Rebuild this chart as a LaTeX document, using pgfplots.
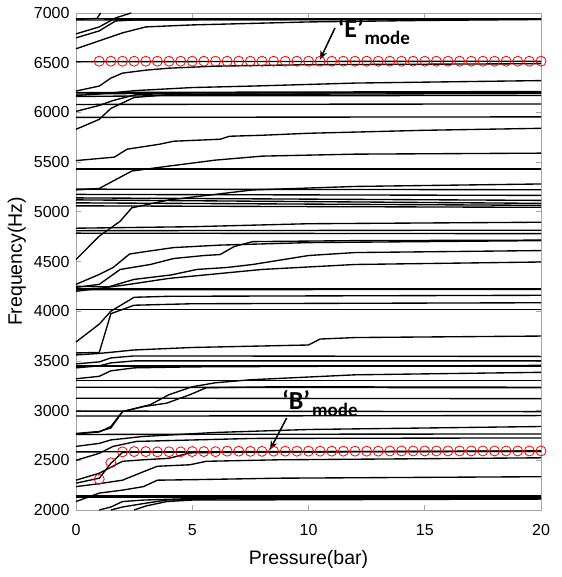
\documentclass[border=0pt]{standalone}
\usepackage{fontspec}
\setmainfont{Liberation Sans}
\newfontfamily\calib{Carlito}
\usepackage{pgfplots}
\pgfplotsset{compat=1.18}
\usetikzlibrary{calc,arrows.meta}

\begin{document}
\begin{tikzpicture}
\begin{axis}[
  scale only axis,
  width=465pt, height=497pt,
  xmin=0, xmax=20, ymin=2000, ymax=7000,
  xtick={0,5,10,15,20},
  ytick={2000,2500,3000,3500,4000,4500,5000,5500,6000,6500,7000},
  tick align=inside,
  major tick length=5pt,
  axis line style={gray!70, line width=0.7pt},
  tick style={gray!70, line width=0.7pt},
  /pgf/number format/assume math mode=true,
  /pgf/number format/1000 sep={},
  ticklabel style={font=\fontsize{16}{16}\selectfont},
  yticklabel style={xshift=-3pt},
  xticklabel style={yshift=-11pt},
  xlabel={Pressure(bar)},
  ylabel={Frequency(Hz)},
  label style={font=\fontsize{19.5}{20}\selectfont},
  xlabel style={at={(axis description cs:0.5,-0.099)}, anchor=center},
  ylabel style={at={(axis description cs:-0.127,0.5)}, anchor=center, rotate=0},
  clip=false,
  ml/.style={black, line width=1.35pt},
]
% ---- upper block (6500-7000)
\addplot[ml] coordinates {(0,6935)(0.9,6945)(1.06,7000)};
\addplot[ml] coordinates {(0,6930)(20,6935)};
\addplot[ml] coordinates {(0,6945)(20,6945)};
\addplot[ml] coordinates {(0,6790)(1,6860)(1.7,6950)(2.37,7000)};
\addplot[ml] coordinates {(0,6750)(1,6820)(1.7,6920)(2.5,6930)(20,6940)};
\addplot[ml] coordinates {(0,6640)(1,6720)(2,6800)(3,6860)(5,6880)(10,6910)(15,6925)(20,6935)};
\addplot[ml] coordinates {(0,6510)(20,6515)};
% ---- 5800-6500
\addplot[ml] coordinates {(0,6215)(1,6265)(1.5,6345)(2,6395)(3,6425)(4,6445)(6,6465)(10,6480)(20,6490)};
\addplot[ml] coordinates {(0,6170)(1,6185)(2.6,6220)(5,6250)(7.6,6265)(12,6295)(20,6320)};
\addplot[ml] coordinates {(0,6200)(20,6210)};
\addplot[ml] coordinates {(0,6185)(5,6195)(20,6200)};
\addplot[ml] coordinates {(0,6160)(4,6168)(20,6170)};
\addplot[ml] coordinates {(0,6010)(1,6070)(1.6,6120)(2.6,6180)(5,6195)(20,6205)};
\addplot[ml] coordinates {(0,5830)(1,5930)(1.5,6040)(2.5,6150)(4,6180)(20,6190)};
\addplot[ml] coordinates {(0,6080)(20,6085)};
\addplot[ml] coordinates {(0,5950)(20,5955)};
% ---- 5000-5800
\addplot[ml] coordinates {(0,5515)(1.65,5550)(2.2,5630)(3.6,5680)(4.2,5710)(6.2,5730)(6.6,5760)(8,5770)(10,5790)(15,5820)(20,5840)};
\addplot[ml] coordinates {(0,5220)(1,5235)(2.4,5410)(4,5460)(6,5520)(8,5560)(12,5580)(20,5590)};
\addplot[ml] coordinates {(0,5430)(20,5430)};
\addplot[ml] coordinates {(0,4520)(1,4755)(1.9,4905)(2.4,5040)(4,5120)(7.6,5220)(12,5255)(20,5280)};
\addplot[ml] coordinates {(0,5228)(20,5222)};
\addplot[ml] coordinates {(0,5175)(20,5165)};
\addplot[ml] coordinates {(0,5140)(20,5115)};
\addplot[ml] coordinates {(0,5120)(20,5085)};
\addplot[ml] coordinates {(0,5090)(20,5065)};
\addplot[ml] coordinates {(0,5060)(20,5045)};
% ---- 4000-5000
\addplot[ml] coordinates {(0,4835)(5,4850)(10,4880)(20,4895)};
\addplot[ml] coordinates {(0,4810)(20,4815)};
\addplot[ml] coordinates {(0,4785)(20,4780)};
\addplot[ml] coordinates {(0,4270)(1,4370)(1.6,4440)(2.3,4575)(3,4600)(4.2,4640)(6.2,4665)(10,4690)(20,4710)};
\addplot[ml] coordinates {(0,4240)(1,4270)(1.9,4420)(3.2,4470)(4.2,4530)(5.5,4560)(6.2,4570)(6.8,4650)(7.6,4700)(12,4710)(20,4715)};
\addplot[ml] coordinates {(0,4250)(1.4,4245)(2.5,4320)(4.1,4365)(5.2,4420)(6.5,4440)(7.6,4470)(10,4560)(12,4590)(20,4610)};
\addplot[ml] coordinates {(0,4200)(2,4260)(4,4330)(8,4420)(12,4470)(20,4495)};
\addplot[ml] coordinates {(0,4225)(20,4225)};
\addplot[ml] coordinates {(0,4215)(20,4220)};
\addplot[ml] coordinates {(0,3690)(1,3870)(1.5,4000)(2.5,4140)(4,4150)(20,4160)};
\addplot[ml] coordinates {(0,3580)(1,3585)(1.5,3975)(2.5,4060)(5,4075)(20,4085)};
\addplot[ml] coordinates {(0,4020)(20,4020)};
% ---- 3000-4000
\addplot[ml] coordinates {(0,3560)(1,3575)(2.5,3610)(5,3635)(10,3660)(10.5,3720)(12,3735)(20,3750)};
\addplot[ml] coordinates {(0,3470)(1,3490)(1.5,3530)(2.5,3550)(20,3545)};
\addplot[ml] coordinates {(0,3430)(1,3450)(1.5,3480)(2.5,3500)(20,3500)};
\addplot[ml] coordinates {(0,3450)(20,3450)};
\addplot[ml] coordinates {(0,3320)(1,3345)(1.5,3400)(2.5,3430)(5,3440)(20,3455)};
\addplot[ml] coordinates {(0,3300)(20,3300)};
\addplot[ml] coordinates {(0,3235)(20,3230)};
\addplot[ml] coordinates {(0,3125)(20,3120)};
\addplot[ml] coordinates {(0,2770)(1,2790)(1.5,2825)(2,2990)(3.2,3060)(4,3160)(5,3240)(6,3280)(7.5,3310)(12,3360)(20,3385)};
\addplot[ml] coordinates {(0,2765)(1,2785)(1.5,2840)(2,2990)(2.9,3040)(3.9,3075)(4.9,3160)(5.6,3230)(8.7,3240)(20,3235)};
\addplot[ml] coordinates {(0,2995)(20,2990)};
\addplot[ml] coordinates {(0,2945)(20,2950)};
% ---- 2000-3000
\addplot[ml] coordinates {(0,2640)(1,2670)(1.5,2705)(2.9,2740)(6,2780)(10,2810)(20,2840)};
\addplot[ml] coordinates {(0,2760)(20,2765)};
\addplot[ml] coordinates {(0,2500)(1,2570)(1.6,2640)(2.6,2690)(7.6,2720)(20,2725)};
\addplot[ml] coordinates {(0,2585)(20,2590)};
\addplot[ml] coordinates {(0,2270)(1,2320)(1.5,2470)(2,2580)(20,2590)};
\addplot[ml] coordinates {(0,2300)(1,2370)(2,2490)(2.9,2505)(4,2520)(4.9,2575)(8.7,2585)(20,2595)};
\addplot[ml] coordinates {(0,2235)(1,2265)(2,2300)(2.9,2385)(3.5,2440)(4.9,2455)(5.6,2490)(8.7,2505)(20,2525)};
\addplot[ml] coordinates {(0,2085)(1,2170)(2,2200)(2.9,2235)(3.5,2300)(5,2305)(8.7,2320)(20,2335)};
\addplot[ml] coordinates {(0,2125)(20,2125)};
\addplot[ml] coordinates {(0,2140)(20,2140)};
\addplot[ml] coordinates {(1,2000)(1.5,2030)(2,2085)(2.9,2100)(5,2115)(20,2120)};
\addplot[ml] coordinates {(1.5,2000)(2,2030)(2.9,2065)(3.9,2100)(6,2110)(20,2115)};
\addplot[ml] coordinates {(2.5,2000)(3,2040)(3.9,2085)(5,2100)(20,2110)};
% ---- tracked modes (red circles)
\addplot[red, only marks, mark=o, mark size=5pt, mark options={line width=0.8pt}] coordinates {
(1,6515)(1.5,6515)(2,6515)(2.5,6515)(3,6515)(3.5,6515)(4,6515)(4.5,6515)(5,6515)(5.5,6515)
(6,6515)(6.5,6515)(7,6515)(7.5,6515)(8,6515)(8.5,6515)(9,6515)(9.5,6515)(10,6515)(10.5,6515)
(11,6515)(11.5,6515)(12,6515)(12.5,6515)(13,6515)(13.5,6515)(14,6515)(14.5,6515)(15,6515)(15.5,6515)
(16,6515)(16.5,6515)(17,6515)(17.5,6515)(18,6515)(18.5,6515)(19,6515)(19.5,6515)(20,6515)};
\addplot[red, only marks, mark=o, mark size=5pt, mark options={line width=0.8pt}] coordinates {
(1,2310)(1.5,2475)(2,2585)(2.5,2588)(3,2588)(3.5,2585)(4,2586)(4.5,2585)(5,2588)(5.5,2588)
(6,2587)(6.5,2592)(7,2592)(7.5,2590)(8,2590)(8.5,2592)(9,2592)(9.5,2592)(10,2592)(10.5,2592)
(11,2592)(11.5,2592)(12,2592)(12.5,2592)(13,2592)(13.5,2594)(14,2594)(14.5,2594)(15,2594)(15.5,2594)
(16,2594)(16.5,2594)(17,2594)(17.5,2594)(18,2594)(18.5,2594)(19,2594)(19.5,2594)(20,2594)};
% ---- annotations
\node[anchor=base west, inner sep=0pt] at (axis cs:11.25,6755) {\calib\bfseries\fontsize{26}{26}\selectfont ‘E’};
\node[anchor=base west, inner sep=0pt] at (axis cs:12.4,6680) {\calib\bfseries\fontsize{19}{19}\selectfont mode};
\draw[-{Stealth[length=9pt,width=7pt]}, line width=1.5pt] (axis cs:11.14,6850) -- (axis cs:10.49,6530);
\node[anchor=base west, inner sep=0pt] at (axis cs:8.86,3007) {\calib\bfseries\fontsize{26}{26}\selectfont ‘B’};
\node[anchor=base west, inner sep=0pt] at (axis cs:10.15,2940) {\calib\bfseries\fontsize{19}{19}\selectfont mode};
\draw[-{Stealth[length=9pt,width=7pt]}, line width=1.5pt] (axis cs:9.06,2925) -- (axis cs:8.34,2605);
\end{axis}
\path ($(current axis.south west)+(-76pt,-67pt)$) rectangle ($(current axis.north east)+(20pt,13pt)$);
\end{tikzpicture}
\end{document}
